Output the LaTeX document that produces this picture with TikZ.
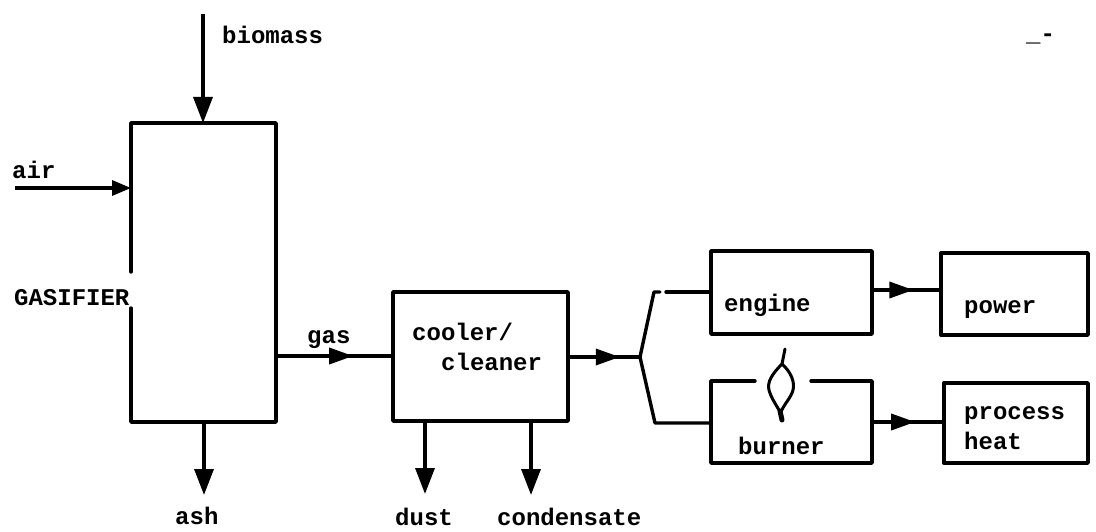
\documentclass[tikz,border=0pt]{standalone}
\usepackage{fontspec}
\setmainfont{Liberation Mono}
\usetikzlibrary{arrows.meta,decorations.markings}
\tikzset{
  x=1pt,y=-1pt,
  wall/.style={line width=3.4pt,black,line cap=round,line join=round},
  lab/.style={font=\fontsize{24}{27}\bfseries\selectfont,text=black,inner sep=0pt,anchor=base west,align=left},
  tip/.style={-{Triangle[length=26pt,width=19pt]}},
  flow/.style={wall,line cap=butt,postaction={decorate},decoration={markings,mark=at position #1 with {\arrow{Triangle[length=24pt,width=16pt]}}}},
}
\begin{document}
\begin{tikzpicture}
\useasboundingbox (0,0) rectangle (1096,532);
% anchors for boxes
\coordinate (gasTL) at (131,123); \coordinate (gasBR) at (276,422);
\coordinate (coolTL) at (393,292); \coordinate (coolBR) at (568,421);
\coordinate (engTL) at (711,251); \coordinate (engBR) at (872,334);
\coordinate (powTL) at (941,253); \coordinate (powBR) at (1088,335);
\coordinate (burTL) at (711,381); \coordinate (burBR) at (872,463);
\coordinate (proTL) at (944,383); \coordinate (proBR) at (1088,463);
% boxes
\draw[wall] (131,272) -- (131,123) -- (276,123) -- (276,422) -- (131,422) -- (131,308);
\draw[wall] (coolTL) rectangle (coolBR);
\draw[wall] (engTL) rectangle (engBR);
\draw[wall] (powTL) rectangle (powBR);
\draw[wall] (755,381) -- (711,381) -- (711,463) -- (872,463) -- (872,381) -- (811,381);
\draw[wall] (proTL) rectangle (proBR);
% free ends
\coordinate (bioS) at (203,14); \coordinate (bioE) at (203,123);
\coordinate (airS) at (15,188); \coordinate (airE) at (131,188);
\coordinate (ashS) at (204,422); \coordinate (ashE) at (204,495);
\coordinate (dustS) at (425,421); \coordinate (dustE) at (425,494);
\coordinate (condS) at (531,421); \coordinate (condE) at (531,495);
\coordinate (gasS) at (276,356); \coordinate (gasE) at (393,356);
\coordinate (mixS) at (568,357); \coordinate (split) at (640,357);
\coordinate (upA) at (654,292); \coordinate (upB) at (711,292);
\coordinate (dnA) at (655,423); \coordinate (dnB) at (711,423);
\coordinate (enS) at (872,290); \coordinate (enE) at (941,290);
\coordinate (buS) at (872,422); \coordinate (buE) at (944,422);
% connectors
\draw[wall,line cap=butt,tip] (bioS) -- (bioE);
\draw[wall,line cap=butt,tip] (ashS) -- (ashE);
\draw[wall,line cap=butt,tip] (dustS) -- (dustE);
\draw[wall,line cap=butt,tip] (condS) -- (condE);
\draw[wall,line cap=butt,-{Triangle[length=19pt,width=15pt]}] (airS) -- (airE);
\draw[flow=0.66] (gasS) -- (gasE);
\draw[flow=0.72] (mixS) -- (split);
\draw[flow=0.60] (enS) -- (enE);
\draw[flow=0.60] (buS) -- (buE);
\draw[wall] (upB) -- (666,292);
\draw[wall] (660,292) -- (upA) -- (split) -- (dnA) -- (dnB);
% flame
\draw[line width=3pt,line cap=round] (785,349) -- (782,364)
  .. controls (772,374) and (767,382) .. (769,390)
  .. controls (771,398) and (777,406) .. (780,412) -- (782,420);
\draw[line width=3pt,line cap=round] (782,364)
  .. controls (791,372) and (795,382) .. (793,390)
  .. controls (791,398) and (784,404) .. (781,412);
\draw[line width=5pt,line cap=round] (780,411) -- (782,420);
% labels
\node[lab] (tbio) at (222,44) {biomass};
\node[lab] (tair) at (12,179) {air};
\node[lab] (tgasf) at (14,305) {GASIFIER};
\node[lab] (tgas) at (307,343) {gas};
\node[lab] (tcool) at (412,340) {cooler/};
\node[lab] (tclean) at (441,370) {cleaner};
\node[lab] (tash) at (175,524) {ash};
\node[lab] (tdust) at (395,525) {dust};
\node[lab] (tcond) at (497,525) {condensate};
\node[lab] (teng) at (724,311) {engine};
\node[lab] (tpow) at (964,313) {power};
\node[lab] (tbur) at (738,454) {burner};
\node[lab] (tpro) at (964,419) {process};
\node[lab] (thea) at (964,449) {heat};
\node[lab] (tmark) at (1026,42) {\_-};
\end{tikzpicture}
\end{document}
